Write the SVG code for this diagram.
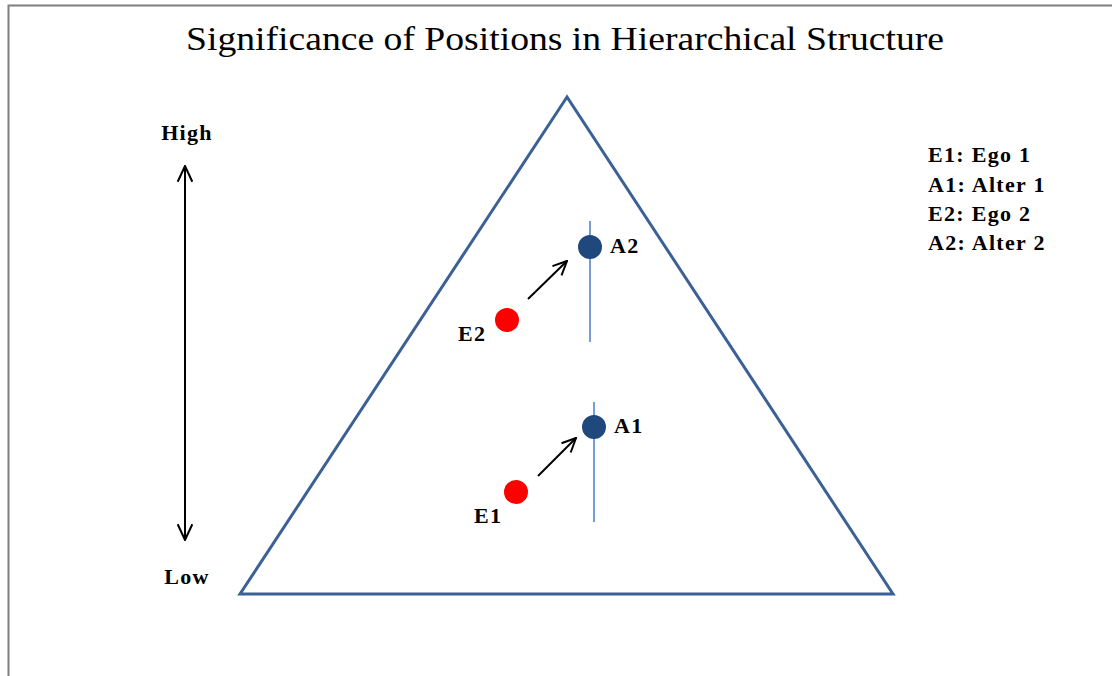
<svg xmlns="http://www.w3.org/2000/svg" width="1112" height="676" viewBox="0 0 1112 676">
<defs>
<marker id="open" viewBox="0 0 16 16" refX="15" refY="8" markerWidth="16" markerHeight="16" markerUnits="userSpaceOnUse" orient="auto-start-reverse">
<path d="M1,1.5 L15,8 L1,14.5" fill="none" stroke="#000" stroke-width="2"/>
</marker>
<marker id="open2" viewBox="0 0 16 16" refX="15" refY="8" markerWidth="18" markerHeight="18" markerUnits="userSpaceOnUse" orient="auto-start-reverse">
<path d="M1,1.5 L15,8 L1,14.5" fill="none" stroke="#000" stroke-width="1.8"/>
</marker>
</defs>
<style>
.lbl{font-family:"Liberation Serif",serif;font-weight:bold;font-size:22px;letter-spacing:1.3px;fill:#000}
.title{font-family:"Liberation Serif",serif;font-size:34px;fill:#000}
.conn{stroke:#000;stroke-width:2;fill:none}
.vline{stroke:#4a7ec6;stroke-width:1.5}
.alter{fill:#1f497d}
.ego{fill:#ff0000}
</style>
<rect width="1112" height="676" fill="#fff"/>
<path d="M8.5,676 V5.5 H1112" fill="none" stroke="#7f7f7f" stroke-width="2"/>
<text class="title" x="565" y="50" text-anchor="middle" textLength="758" lengthAdjust="spacingAndGlyphs">Significance of Positions in Hierarchical Structure</text>
<g id="triangle">
<polygon points="567,97 240,594 893,594" fill="none" stroke="#3b6196" stroke-width="3" stroke-linejoin="miter"/>
</g>
<g id="scale">
<text class="lbl" x="187" y="140" text-anchor="middle">High</text>
<text class="lbl" x="187" y="584" text-anchor="middle">Low</text>
</g>
<g id="legend">
<text class="lbl" x="928" y="162">E1: Ego 1</text>
<text class="lbl" x="928" y="192">A1: Alter 1</text>
<text class="lbl" x="928" y="221">E2: Ego 2</text>
<text class="lbl" x="928" y="250">A2: Alter 2</text>
</g>
<g id="A2">
<line class="vline" x1="590" y1="221" x2="590" y2="342"/>
<circle class="alter" cx="590" cy="247" r="12"/>
<text class="lbl" x="610" y="253">A2</text>
</g>
<g id="E2">
<circle class="ego" cx="507" cy="320" r="12"/>
<text class="lbl" x="458" y="341">E2</text>
</g>
<g id="A1">
<line class="vline" x1="594" y1="402" x2="594" y2="522"/>
<circle class="alter" cx="594" cy="427" r="12"/>
<text class="lbl" x="614" y="433">A1</text>
</g>
<g id="E1">
<circle class="ego" cx="516" cy="492" r="12"/>
<text class="lbl" x="474" y="523">E1</text>
</g>
<g id="connectors">
<line class="conn" x1="185" y1="166" x2="185" y2="540" marker-start="url(#open2)" marker-end="url(#open2)"/>
<line class="conn" x1="528" y1="299" x2="567" y2="261" marker-end="url(#open)"/>
<line class="conn" x1="538" y1="476" x2="576" y2="438" marker-end="url(#open)"/>
</g>
</svg>
